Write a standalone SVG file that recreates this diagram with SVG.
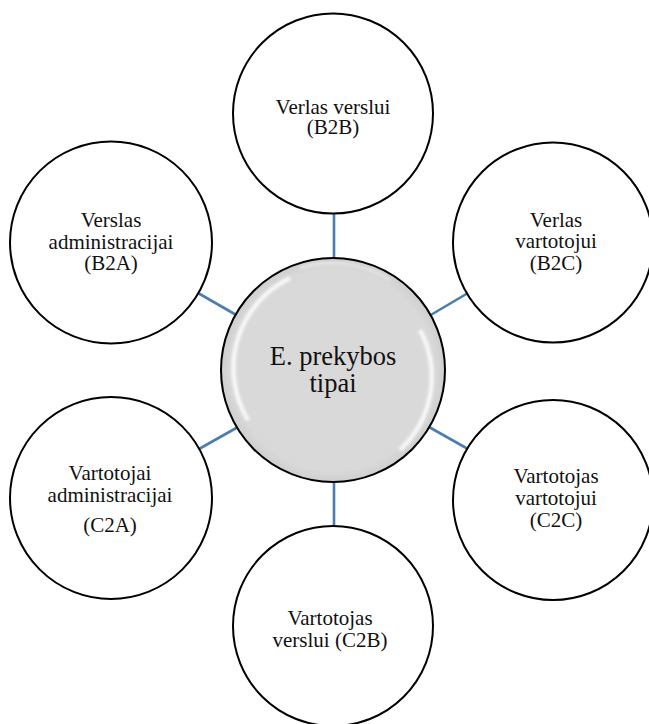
<svg xmlns="http://www.w3.org/2000/svg" width="649" height="724" viewBox="0 0 649 724">
<style>
.outer{fill:#fff;stroke:#000;stroke-width:2}
.lbl{font-family:"Liberation Serif","Times New Roman",serif;font-size:21px;fill:#111;text-anchor:middle}
.ctr{font-family:"Liberation Serif","Times New Roman",serif;font-size:26.5px;fill:#111;text-anchor:middle}
.conn{stroke:#4a7eb0;stroke-width:2.6;fill:none}
</style>
<defs>
<radialGradient id="cg" cx="0.5" cy="0.5" r="0.5">
<stop offset="0" stop-color="#d9d9d9"/>
<stop offset="0.9" stop-color="#d9d9d9"/>
<stop offset="1" stop-color="#cfcfcf"/>
</radialGradient>
<filter id="bl" x="-10%" y="-10%" width="120%" height="120%"><feGaussianBlur stdDeviation="1.5"/></filter>
</defs>
<rect width="649" height="724" fill="#fff"/>
<g id="connectors">
<line class="conn" x1="334" y1="214" x2="334" y2="258"/>
<line class="conn" x1="198" y1="293" x2="238" y2="316"/>
<line class="conn" x1="468" y1="293" x2="429" y2="316"/>
<line class="conn" x1="199" y1="449" x2="238" y2="427"/>
<line class="conn" x1="468" y1="449" x2="429" y2="427"/>
<line class="conn" x1="334" y1="483" x2="334" y2="526"/>
</g>
<g id="n-center">
<circle cx="333" cy="370" r="112" fill="url(#cg)"/>
<path d="M 248 420 A 100 100 0 0 1 290 278" stroke="#fff" stroke-width="4" fill="none" filter="url(#bl)" opacity="0.9"/>
<path d="M 420 330 A 100 100 0 0 1 400 450" stroke="#fff" stroke-width="4" fill="none" filter="url(#bl)" opacity="0.9"/>
<path d="M 300 268 A 106 106 0 0 1 390 280" stroke="#fff" stroke-width="2" fill="none" filter="url(#bl)" opacity="0.6"/>
<circle cx="333" cy="370" r="112" fill="none" stroke="#000" stroke-width="2"/>
<text class="ctr" x="333" y="365">E. prekybos</text>
<text class="ctr" x="333" y="392">tipai</text>
</g>
<g id="n-b2b">
<circle class="outer" cx="333" cy="113.5" r="100"/>
<text class="lbl" x="333" y="114">Verlas verslui</text>
<text class="lbl" x="333" y="134">(B2B)</text>
</g>
<g id="n-b2a">
<circle class="outer" cx="111" cy="242.5" r="101"/>
<text class="lbl" x="111" y="227">Verslas</text>
<text class="lbl" x="111" y="249">administracijai</text>
<text class="lbl" x="111" y="270">(B2A)</text>
</g>
<g id="n-b2c">
<circle class="outer" cx="553" cy="242.5" r="100"/>
<text class="lbl" x="556" y="227">Verlas</text>
<text class="lbl" x="556" y="248">vartotojui</text>
<text class="lbl" x="556" y="270">(B2C)</text>
</g>
<g id="n-c2a">
<circle class="outer" cx="111" cy="498" r="101"/>
<text class="lbl" x="110" y="480">Vartotojai</text>
<text class="lbl" x="110" y="502">administracijai</text>
<text class="lbl" x="110" y="532">(C2A)</text>
</g>
<g id="n-c2c">
<circle class="outer" cx="553" cy="500" r="100"/>
<text class="lbl" x="556" y="483">Vartotojas</text>
<text class="lbl" x="556" y="505">vartotojui</text>
<text class="lbl" x="556" y="527">(C2C)</text>
</g>
<g id="n-c2b">
<circle class="outer" cx="333" cy="626" r="100"/>
<text class="lbl" x="330" y="625">Vartotojas</text>
<text class="lbl" x="330" y="647">verslui (C2B)</text>
</g>
</svg>
